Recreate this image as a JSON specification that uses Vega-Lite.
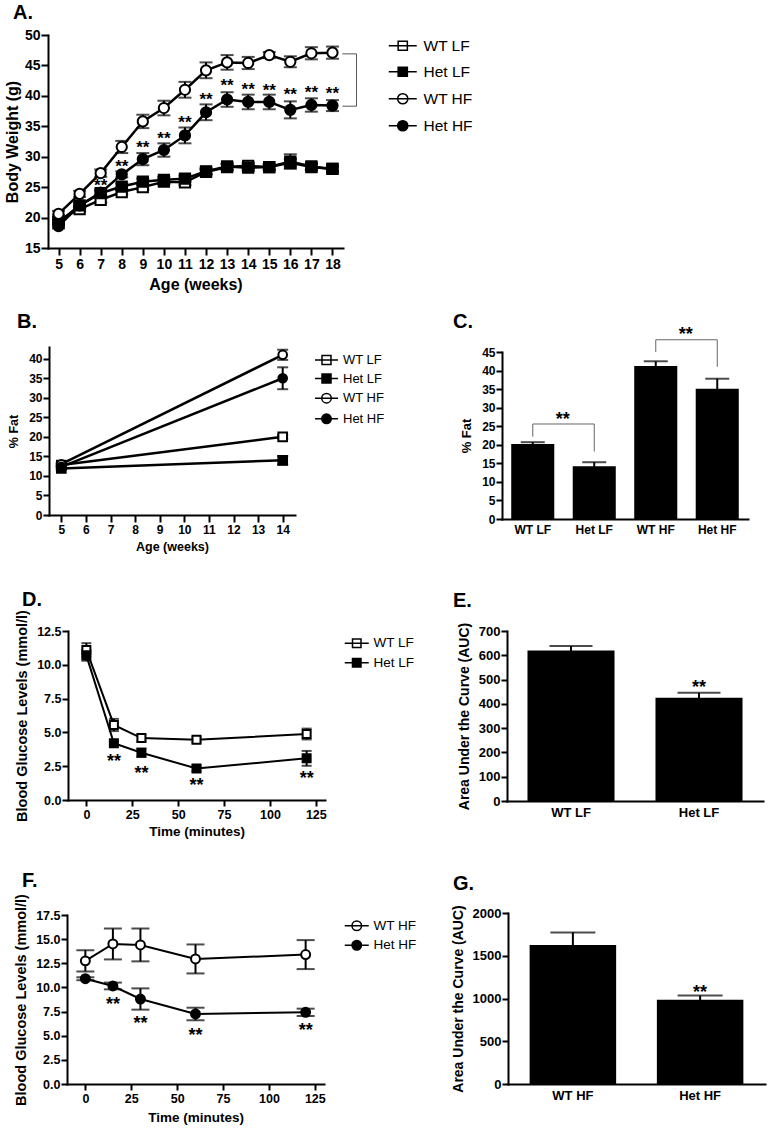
{
"$schema": "https://vega.github.io/schema/vega-lite/v6.json",
"padding": {"left": 4, "top": 3, "right": 5, "bottom": 5},
"config": {
 "font": "Liberation Sans",
 "view": {"stroke": null},
 "axis": {"domainColor": "black", "domainWidth": 2, "domainCap": "square", "tickColor": "black", "tickWidth": 2, "tickSize": 6, "labelColor": "black", "labelFontWeight": "bold", "labelPadding": 1, "titleColor": "black", "titleFontWeight": "bold", "grid": false, "labelFlush": false, "labelOverlap": false},
 "legend": {"labelColor": "black", "labelFontWeight": "normal", "padding": 0, "titlePadding": 0},
 "title": {"fontWeight": "bold", "color": "black", "fontSize": 20, "anchor": "start", "frame": "group"}
},
"datasets": {
 "A": [
  {"week":5,"g":"WT LF","v":19.6,"sem":0.4},{"week":6,"g":"WT LF","v":21.4,"sem":0.4},{"week":7,"g":"WT LF","v":22.9,"sem":0.4},{"week":8,"g":"WT LF","v":24.2,"sem":0.4},{"week":9,"g":"WT LF","v":25.0,"sem":0.4},{"week":10,"g":"WT LF","v":25.9,"sem":0.4},{"week":11,"g":"WT LF","v":25.8,"sem":0.5},{"week":12,"g":"WT LF","v":27.5,"sem":0.4},{"week":13,"g":"WT LF","v":28.3,"sem":0.5},{"week":14,"g":"WT LF","v":28.5,"sem":0.5},{"week":15,"g":"WT LF","v":28.3,"sem":0.4},{"week":16,"g":"WT LF","v":29.0,"sem":0.6},{"week":17,"g":"WT LF","v":28.3,"sem":0.5},{"week":18,"g":"WT LF","v":28.0,"sem":0.4},
  {"week":5,"g":"Het LF","v":19.2,"sem":0.4},{"week":6,"g":"Het LF","v":22.0,"sem":0.4},{"week":7,"g":"Het LF","v":24.0,"sem":0.4},{"week":8,"g":"Het LF","v":25.1,"sem":0.5},{"week":9,"g":"Het LF","v":25.9,"sem":0.5},{"week":10,"g":"Het LF","v":26.2,"sem":0.5},{"week":11,"g":"Het LF","v":26.4,"sem":0.5},{"week":12,"g":"Het LF","v":27.6,"sem":0.5},{"week":13,"g":"Het LF","v":28.4,"sem":0.5},{"week":14,"g":"Het LF","v":28.2,"sem":0.5},{"week":15,"g":"Het LF","v":28.3,"sem":0.5},{"week":16,"g":"Het LF","v":29.2,"sem":1.2},{"week":17,"g":"Het LF","v":28.4,"sem":0.5},{"week":18,"g":"Het LF","v":28.0,"sem":0.5},
  {"week":5,"g":"WT HF","v":20.6,"sem":0.5},{"week":6,"g":"WT HF","v":23.9,"sem":0.5},{"week":7,"g":"WT HF","v":27.3,"sem":0.6},{"week":8,"g":"WT HF","v":31.6,"sem":1.0},{"week":9,"g":"WT HF","v":35.8,"sem":1.1},{"week":10,"g":"WT HF","v":38.0,"sem":1.2},{"week":11,"g":"WT HF","v":41.0,"sem":1.3},{"week":12,"g":"WT HF","v":44.2,"sem":1.3},{"week":13,"g":"WT HF","v":45.5,"sem":1.2},{"week":14,"g":"WT HF","v":45.4,"sem":1.0},{"week":15,"g":"WT HF","v":46.7,"sem":0.5},{"week":16,"g":"WT HF","v":45.6,"sem":0.9},{"week":17,"g":"WT HF","v":47.0,"sem":1.0},{"week":18,"g":"WT HF","v":47.1,"sem":1.0},
  {"week":5,"g":"Het HF","v":18.6,"sem":0.4},{"week":6,"g":"Het HF","v":22.0,"sem":0.5},{"week":7,"g":"Het HF","v":24.1,"sem":0.5},{"week":8,"g":"Het HF","v":27.1,"sem":0.5},{"week":9,"g":"Het HF","v":29.6,"sem":1.0},{"week":10,"g":"Het HF","v":31.1,"sem":1.1},{"week":11,"g":"Het HF","v":33.5,"sem":1.3},{"week":12,"g":"Het HF","v":37.3,"sem":1.3},{"week":13,"g":"Het HF","v":39.4,"sem":1.2},{"week":14,"g":"Het HF","v":39.0,"sem":1.2},{"week":15,"g":"Het HF","v":39.0,"sem":1.2},{"week":16,"g":"Het HF","v":37.7,"sem":1.4},{"week":17,"g":"Het HF","v":38.5,"sem":1.1},{"week":18,"g":"Het HF","v":38.4,"sem":0.9}
 ],
 "Asig": [
  {"week":7,"v":25.8,"label":"**"},{"week":8,"v":28.9,"label":"**"},{"week":9,"v":32.1,"label":"**"},{"week":10,"v":33.5,"label":"**"},{"week":11,"v":36.2,"label":"**"},{"week":12,"v":40.0,"label":"**"},{"week":13,"v":42.2,"label":"**"},{"week":14,"v":41.6,"label":"**"},{"week":15,"v":41.4,"label":"**"},{"week":16,"v":40.8,"label":"**"},{"week":17,"v":41.2,"label":"**"},{"week":18,"v":40.9,"label":"**"}
 ],
 "Abr": [
  {"week":18.47,"week2":19.14,"v":46.9,"v2":46.9},{"week":19.14,"week2":19.14,"v":46.9,"v2":38.3},{"week":18.47,"week2":19.14,"v":38.3,"v2":38.3}
 ],
 "B": [
  {"week":5,"g":"WT LF","v":12.8,"sem":0.3},{"week":14,"g":"WT LF","v":20.0,"sem":0.5},
  {"week":5,"g":"Het LF","v":11.9,"sem":0.3},{"week":14,"g":"Het LF","v":14.0,"sem":1.1},
  {"week":5,"g":"WT HF","v":13.0,"sem":0.3},{"week":14,"g":"WT HF","v":41.0,"sem":1.3},
  {"week":5,"g":"Het HF","v":12.3,"sem":0.3},{"week":14,"g":"Het HF","v":35.0,"sem":2.8}
 ],
 "C": [
  {"g":"WT LF","v":20.2,"sem":0.5},{"g":"Het LF","v":14.2,"sem":1.1},{"g":"WT HF","v":41.2,"sem":1.3},{"g":"Het HF","v":35.1,"sem":2.7}
 ],
 "Cbr": [
  {"g":"WT LF","g2":"Het LF","v":25.6,"v2":25.6},{"g":"WT LF","g2":"WT LF","v":22.2,"v2":25.6},{"g":"Het LF","g2":"Het LF","v":18.2,"v2":25.6},
  {"g":"WT HF","g2":"Het HF","v":48.3,"v2":48.3},{"g":"WT HF","g2":"WT HF","v":45.0,"v2":48.3},{"g":"Het HF","g2":"Het HF","v":41.0,"v2":48.3}
 ],
 "Csig": [
  {"g":"WT LF","v":27.8,"label":"**"},{"g":"WT HF","v":50.7,"label":"**"}
 ],
 "D": [
  {"t":0,"g":"WT LF","v":11.1,"sem":0.5},{"t":15,"g":"WT LF","v":5.55,"sem":0.45},{"t":30,"g":"WT LF","v":4.58,"sem":0.25},{"t":60,"g":"WT LF","v":4.45,"sem":0.18},{"t":120,"g":"WT LF","v":4.88,"sem":0.4},
  {"t":0,"g":"Het LF","v":10.7,"sem":0.4},{"t":15,"g":"Het LF","v":4.2,"sem":0.15},{"t":30,"g":"Het LF","v":3.5,"sem":0.3},{"t":60,"g":"Het LF","v":2.33,"sem":0.2},{"t":120,"g":"Het LF","v":3.08,"sem":0.55}
 ],
 "Dsig": [
  {"t":15,"v":3.1,"label":"**"},{"t":30,"v":2.24,"label":"**"},{"t":60,"v":1.33,"label":"**"},{"t":120,"v":1.82,"label":"**"}
 ],
 "E": [
  {"g":"WT LF","v":620,"sem":18},{"g":"Het LF","v":425,"sem":21}
 ],
 "Esig": [{"g":"Het LF","v":480,"label":"**"}],
 "F": [
  {"t":0,"g":"WT HF","v":12.75,"sem":1.1},{"t":15,"g":"WT HF","v":14.5,"sem":1.6},{"t":30,"g":"WT HF","v":14.4,"sem":1.7},{"t":60,"g":"WT HF","v":12.95,"sem":1.5},{"t":120,"g":"WT HF","v":13.4,"sem":1.5},
  {"t":0,"g":"Het HF","v":10.9,"sem":0.15},{"t":15,"g":"Het HF","v":10.15,"sem":0.35},{"t":30,"g":"Het HF","v":8.8,"sem":1.1},{"t":60,"g":"Het HF","v":7.25,"sem":0.65},{"t":120,"g":"Het HF","v":7.42,"sem":0.38}
 ],
 "Fsig": [
  {"t":15,"v":8.6,"label":"**"},{"t":30,"v":6.6,"label":"**"},{"t":60,"v":5.4,"label":"**"},{"t":120,"v":5.9,"label":"**"}
 ],
 "G": [
  {"g":"WT HF","v":1625,"sem":148},{"g":"Het HF","v":984,"sem":50}
 ],
 "Gsig": [{"g":"Het HF","v":1109,"label":"**"}]
},
"columns": 3,
"align": "each",
"bounds": "flush",
"spacing": 0,
"resolve": {"scale": {"x": "independent", "y": "independent", "shape": "independent", "fill": "independent"}, "legend": {"shape": "independent", "fill": "independent"}, "axis": {"x": "independent", "y": "independent"}},
"concat": [
 {
  "width": 295, "height": 213,
  "title": {"text": "A.", "dx": -35, "offset": 5},
  "encoding": {
   "x": {"field": "week", "type": "quantitative", "scale": {"domain": [4.5, 18.5], "nice": false, "zero": false}, "axis": {"values": [5,6,7,8,9,10,11,12,13,14,15,16,17,18], "title": "Age (weeks)", "labelFontSize": 14, "titleFontSize": 16, "tickSize": 7, "labelPadding": 2, "titlePadding": 5}},
   "y": {"field": "v", "type": "quantitative", "scale": {"domain": [15, 50], "nice": false, "zero": false}, "axis": {"values": [15,20,25,30,35,40,45,50], "title": "Body Weight (g)", "labelFontSize": 14, "titleFontSize": 16, "tickSize": 7, "titlePadding": 4}}
  },
  "resolve": {"scale": {"shape": "independent", "fill": "independent"}, "legend": {"shape": "independent", "fill": "independent"}},
  "layer": [
   {"data": {"name": "Abr"}, "mark": {"type": "rule", "color": "#555555", "strokeWidth": 1}, "encoding": {"x2": {"field": "week2"}, "y2": {"field": "v2"}}},
   {"data": {"name": "A"}, "mark": {"type": "line", "color": "black", "strokeWidth": 2.5}, "encoding": {"detail": {"field": "g"}}},
   {"data": {"name": "A"}, "mark": {"type": "errorbar", "ticks": {"size": 13, "thickness": 2}, "thickness": 2, "color": "black"}, "encoding": {"yError": {"field": "sem"}}},
   {"data": {"name": "A"}, "mark": {"type": "point", "filled": true, "size": 105, "stroke": "black", "strokeWidth": 2, "opacity": 1},
    "encoding": {
     "fill": {"field": "g", "type": "nominal", "scale": {"domain": ["WT LF","Het LF","WT HF","Het HF"], "range": ["white","black","white","black"]}, "legend": null},
     "shape": {"field": "g", "type": "nominal", "scale": {"domain": ["WT LF","Het LF","WT HF","Het HF"], "range": ["square","square","circle","circle"]}, "legend": null}
    }},
   {"data": {"values": []}, "mark": {"type": "point", "filled": true, "stroke": "black", "strokeWidth": 2, "opacity": 1},
    "encoding": {
     "fill": {"field": "g", "type": "nominal", "scale": {"domain": ["WT LF","Het LF","WT HF","Het HF"], "range": ["white","black","white","black"]},
      "legend": {"title": null, "orient": "none", "legendX": 347, "legendY": 3, "labelFontSize": 15.5, "symbolSize": 144, "labelOffset": 13, "rowPadding": 9,
       "encode": {"symbols": {"update": {"stroke": {"value": "black"}, "strokeWidth": {"value": 2}, "opacity": {"value": 1}}}}}},
     "shape": {"field": "g", "type": "nominal", "scale": {"domain": ["WT LF","Het LF","WT HF","Het HF"], "range": ["M-2.333,0H2.333M-0.767,-0.767H0.767V0.767H-0.767Z","M-2.333,0H2.333M-0.767,-0.767H0.767V0.767H-0.767Z","M-2.333,0H2.333M0.85,0A0.85 0.85 0 1 1 -0.85,0A0.85 0.85 0 1 1 0.85,0Z","M-2.333,0H2.333M0.85,0A0.85 0.85 0 1 1 -0.85,0A0.85 0.85 0 1 1 0.85,0Z"]},
      "legend": {"title": null, "orient": "none", "legendX": 347, "legendY": 3, "labelFontSize": 15.5, "symbolSize": 144, "labelOffset": 13, "rowPadding": 9,
       "encode": {"symbols": {"update": {"stroke": {"value": "black"}, "strokeWidth": {"value": 2}, "opacity": {"value": 1}}}}}}
    }},
   {"data": {"name": "Asig"}, "mark": {"type": "text", "fontSize": 17, "fontWeight": "bold", "baseline": "middle", "dy": 4, "color": "black"}, "encoding": {"text": {"field": "label"}}}
  ]
 },
 {"width": 159, "height": 213, "data": {"values": []}, "mark": "point", "encoding": {}},
 {"width": 1, "height": 213, "data": {"values": []}, "mark": "point", "encoding": {}},

 {"width": 1, "height": 99, "data": {"values": []}, "mark": "point", "encoding": {}},
 {"width": 1, "height": 99, "data": {"values": []}, "mark": "point", "encoding": {}},
 {"width": 1, "height": 99, "data": {"values": []}, "mark": "point", "encoding": {}},

 {
  "width": 247, "height": 168,
  "title": {"text": "B.", "dx": -31, "offset": 14},
  "encoding": {
   "x": {"field": "week", "type": "quantitative", "scale": {"domain": [4.5, 14.5], "nice": false, "zero": false, "range": [1, 247]}, "axis": {"values": [5,6,7,8,9,10,11,12,13,14], "title": "Age (weeks)", "labelFontSize": 12, "titleFontSize": 12.5, "tickSize": 7, "labelPadding": 2, "titlePadding": 5}},
   "y": {"field": "v", "type": "quantitative", "scale": {"domain": [0, 43], "nice": false, "zero": false}, "axis": {"values": [0,5,10,15,20,25,30,35,40], "title": "% Fat", "labelFontSize": 12, "titleFontSize": 12.5, "tickSize": 6, "titlePadding": 8, "offset": -1}}
  },
  "resolve": {"scale": {"shape": "independent", "fill": "independent"}, "legend": {"shape": "independent", "fill": "independent"}},
  "layer": [
   {"data": {"name": "B"}, "mark": {"type": "line", "color": "black", "strokeWidth": 2.5}, "encoding": {"detail": {"field": "g"}}},
   {"data": {"name": "B"}, "mark": {"type": "errorbar", "ticks": {"size": 11, "thickness": 2}, "thickness": 2, "color": "black"}, "encoding": {"yError": {"field": "sem"}}},
   {"data": {"name": "B"}, "mark": {"type": "point", "filled": true, "size": 75, "stroke": "black", "strokeWidth": 2, "opacity": 1},
    "encoding": {
     "fill": {"field": "g", "type": "nominal", "scale": {"domain": ["WT LF","Het LF","WT HF","Het HF"], "range": ["white","black","white","black"]}, "legend": null},
     "shape": {"field": "g", "type": "nominal", "scale": {"domain": ["WT LF","Het LF","WT HF","Het HF"], "range": ["square","square","circle","circle"]}, "legend": null}
    }},
   {"data": {"values": []}, "mark": {"type": "point", "filled": true, "stroke": "black", "strokeWidth": 2, "opacity": 1},
    "encoding": {
     "fill": {"field": "g", "type": "nominal", "scale": {"domain": ["WT LF","Het LF","WT HF","Het HF"], "range": ["white","black","white","black"]},
      "legend": {"title": null, "orient": "none", "legendX": 272, "legendY": 6.5, "labelFontSize": 13, "symbolSize": 100, "labelOffset": 10, "rowPadding": 3.6,
       "encode": {"symbols": {"update": {"stroke": {"value": "black"}, "strokeWidth": {"value": 2}, "opacity": {"value": 1}}}}}},
     "shape": {"field": "g", "type": "nominal", "scale": {"domain": ["WT LF","Het LF","WT HF","Het HF"], "range": ["M-2.3,0H2.3M-0.9,-0.9H0.9V0.9H-0.9Z","M-2.3,0H2.3M-0.9,-0.9H0.9V0.9H-0.9Z","M-2.3,0H2.3M0.95,0A0.95 0.95 0 1 1 -0.95,0A0.95 0.95 0 1 1 0.95,0Z","M-2.3,0H2.3M0.95,0A0.95 0.95 0 1 1 -0.95,0A0.95 0.95 0 1 1 0.95,0Z"]},
      "legend": {"title": null, "orient": "none", "legendX": 272, "legendY": 6.5, "labelFontSize": 13, "symbolSize": 100, "labelOffset": 10, "rowPadding": 3.6,
       "encode": {"symbols": {"update": {"stroke": {"value": "black"}, "strokeWidth": {"value": 2}, "opacity": {"value": 1}}}}}}
    }}
  ]
 },
 {"width": 159, "height": 1, "data": {"values": []}, "mark": "point", "encoding": {}},
 {
  "width": 246, "height": 172,
  "title": {"text": "C.", "dx": -49, "offset": -6},
  "encoding": {
   "x": {"field": "g", "type": "nominal", "sort": null, "scale": {"type": "band", "domain": ["WT LF","Het LF","WT HF","Het HF"], "paddingInner": 0.3, "paddingOuter": 0.15}, "axis": {"title": null, "labelAngle": 0, "ticks": false, "labelFontSize": 12, "labelPadding": 5}},
   "y": {"field": "v", "type": "quantitative", "scale": {"domain": [0, 45], "nice": false, "range": [172, 5]}, "axis": {"values": [0,5,10,15,20,25,30,35,40,45], "title": "% Fat", "labelFontSize": 12, "titleFontSize": 13, "tickSize": 6, "titlePadding": 8}}
  },
  "layer": [
   {"data": {"name": "C"}, "mark": {"type": "errorbar", "ticks": {"size": 24, "thickness": 2}, "thickness": 2, "color": "black"}, "encoding": {"yError": {"field": "sem"}}},
   {"data": {"name": "C"}, "mark": {"type": "bar", "color": "black"}},
   {"data": {"name": "Cbr"}, "mark": {"type": "rule", "color": "#666666", "strokeWidth": 1}, "encoding": {"x": {"field": "g", "type": "nominal", "bandPosition": 0.5}, "x2": {"field": "g2", "bandPosition": 0.5}, "y2": {"field": "v2"}}},
   {"data": {"name": "Csig"}, "mark": {"type": "text", "fontSize": 18, "fontWeight": "bold", "baseline": "middle", "dy": 4, "color": "black", "dx": 30}, "encoding": {"text": {"field": "label"}}}
  ]
 },

 {"width": 1, "height": 112, "data": {"values": []}, "mark": "point", "encoding": {}},
 {"width": 1, "height": 112, "data": {"values": []}, "mark": "point", "encoding": {}},
 {"width": 1, "height": 112, "data": {"values": []}, "mark": "point", "encoding": {}},

 {
  "width": 277, "height": 169,
  "title": {"text": "D.", "dx": -26, "offset": 0},
  "encoding": {
   "x": {"field": "t", "type": "quantitative", "scale": {"domain": [-10, 130], "nice": false, "zero": false, "range": [20, 277]}, "axis": {"values": [0,25,50,75,100,125], "title": "Time (minutes)", "labelFontSize": 12.5, "titleFontSize": 13.5, "tickSize": 6, "labelPadding": 2, "titlePadding": 4}},
   "y": {"field": "v", "type": "quantitative", "scale": {"domain": [0, 12.5], "nice": false, "zero": false}, "axis": {"values": [0,2.5,5,7.5,10,12.5], "format": ".1f", "title": "Blood Glucose Levels (mmol/l)", "labelFontSize": 12.5, "titleFontSize": 14.5, "tickSize": 6, "titlePadding": 7, "offset": -20}}
  },
  "resolve": {"scale": {"shape": "independent", "fill": "independent"}, "legend": {"shape": "independent", "fill": "independent"}},
  "layer": [
   {"data": {"name": "D"}, "mark": {"type": "line", "color": "black", "strokeWidth": 2}, "encoding": {"detail": {"field": "g"}}},
   {"data": {"name": "D"}, "mark": {"type": "errorbar", "ticks": {"size": 10, "thickness": 2}, "thickness": 2, "color": "black"}, "encoding": {"yError": {"field": "sem"}}},
   {"data": {"name": "D"}, "mark": {"type": "point", "filled": true, "size": 64, "stroke": "black", "strokeWidth": 2, "opacity": 1},
    "encoding": {
     "fill": {"field": "g", "type": "nominal", "scale": {"domain": ["WT LF","Het LF"], "range": ["white","black"]}, "legend": null},
     "shape": {"field": "g", "type": "nominal", "scale": {"domain": ["WT LF","Het LF"], "range": ["square","square"]}, "legend": null}
    }},
   {"data": {"values": []}, "mark": {"type": "point", "filled": true, "stroke": "black", "strokeWidth": 2, "opacity": 1},
    "encoding": {
     "fill": {"field": "g", "type": "nominal", "scale": {"domain": ["WT LF","Het LF"], "range": ["white","black"]},
      "legend": {"title": null, "orient": "none", "legendX": 302, "legendY": 5.5, "labelFontSize": 13.5, "symbolSize": 100, "labelOffset": 10, "rowPadding": 4.5,
       "encode": {"symbols": {"update": {"stroke": {"value": "black"}, "strokeWidth": {"value": 2}, "opacity": {"value": 1}}}}}},
     "shape": {"field": "g", "type": "nominal", "scale": {"domain": ["WT LF","Het LF"], "range": ["M-2.4,0H2.4M-0.85,-0.85H0.85V0.85H-0.85Z","M-2.4,0H2.4M-0.85,-0.85H0.85V0.85H-0.85Z"]},
      "legend": {"title": null, "orient": "none", "legendX": 302, "legendY": 5.5, "labelFontSize": 13.5, "symbolSize": 100, "labelOffset": 10, "rowPadding": 4.5,
       "encode": {"symbols": {"update": {"stroke": {"value": "black"}, "strokeWidth": {"value": 2}, "opacity": {"value": 1}}}}}}
    }},
   {"data": {"name": "Dsig"}, "mark": {"type": "text", "fontSize": 18, "fontWeight": "bold", "baseline": "middle", "dy": 4, "color": "black"}, "encoding": {"text": {"field": "label"}}}
  ]
 },
 {"width": 159, "height": 1, "data": {"values": []}, "mark": "point", "encoding": {}},
 {
  "width": 261, "height": 170,
  "title": {"text": "E.", "dx": -49, "offset": 11},
  "encoding": {
   "x": {"field": "g", "type": "nominal", "sort": null, "scale": {"type": "band", "domain": ["WT LF","Het LF"], "paddingInner": 0.32, "paddingOuter": 0.16, "range": [5, 261]}, "axis": {"title": null, "labelAngle": 0, "ticks": false, "labelFontSize": 13, "labelPadding": 5}},
   "y": {"field": "v", "type": "quantitative", "scale": {"domain": [0, 700], "nice": false}, "axis": {"values": [0,100,200,300,400,500,600,700], "title": "Area Under the Curve (AUC)", "labelFontSize": 13, "titleFontSize": 14, "tickSize": 6, "titlePadding": 7, "offset": -5}}
  },
  "layer": [
   {"data": {"name": "E"}, "mark": {"type": "errorbar", "ticks": {"size": 43, "thickness": 2}, "thickness": 2, "color": "black"}, "encoding": {"yError": {"field": "sem"}}},
   {"data": {"name": "E"}, "mark": {"type": "bar", "color": "black"}},
   {"data": {"name": "Esig"}, "mark": {"type": "text", "fontSize": 18, "fontWeight": "bold", "baseline": "middle", "dy": 4, "color": "black"}, "encoding": {"text": {"field": "label"}}}
  ]
 },

 {"width": 1, "height": 112, "data": {"values": []}, "mark": "point", "encoding": {}},
 {"width": 1, "height": 112, "data": {"values": []}, "mark": "point", "encoding": {}},
 {"width": 1, "height": 112, "data": {"values": []}, "mark": "point", "encoding": {}},

 {
  "width": 276, "height": 171,
  "title": {"text": "F.", "dx": -26, "offset": 3},
  "encoding": {
   "x": {"field": "t", "type": "quantitative", "scale": {"domain": [-10, 130], "nice": false, "zero": false, "range": [19, 276]}, "axis": {"values": [0,25,50,75,100,125], "title": "Time (minutes)", "labelFontSize": 12.5, "titleFontSize": 13.5, "tickSize": 6, "labelPadding": 2, "titlePadding": 6}},
   "y": {"field": "v", "type": "quantitative", "scale": {"domain": [0, 17.5], "nice": false, "zero": false, "range": [171, 2]}, "axis": {"values": [0,2.5,5,7.5,10,12.5,15,17.5], "format": ".1f", "title": "Blood Glucose Levels (mmol/l)", "labelFontSize": 12.5, "titleFontSize": 14.5, "tickSize": 6, "titlePadding": 7, "offset": -19}}
  },
  "resolve": {"scale": {"shape": "independent", "fill": "independent"}, "legend": {"shape": "independent", "fill": "independent"}},
  "layer": [
   {"data": {"name": "F"}, "mark": {"type": "line", "color": "black", "strokeWidth": 2}, "encoding": {"detail": {"field": "g"}}},
   {"data": {"name": "F"}, "mark": {"type": "errorbar", "ticks": {"size": 18, "thickness": 2}, "thickness": 2, "color": "black"}, "encoding": {"yError": {"field": "sem"}}},
   {"data": {"name": "F"}, "mark": {"type": "point", "filled": true, "size": 80, "stroke": "black", "strokeWidth": 2, "opacity": 1},
    "encoding": {
     "fill": {"field": "g", "type": "nominal", "scale": {"domain": ["WT HF","Het HF"], "range": ["white","black"]}, "legend": null},
     "shape": {"field": "g", "type": "nominal", "scale": {"domain": ["WT HF","Het HF"], "range": ["circle","circle"]}, "legend": null}
    }},
   {"data": {"values": []}, "mark": {"type": "point", "filled": true, "stroke": "black", "strokeWidth": 2, "opacity": 1},
    "encoding": {
     "fill": {"field": "g", "type": "nominal", "scale": {"domain": ["WT HF","Het HF"], "range": ["white","black"]},
      "legend": {"title": null, "orient": "none", "legendX": 302, "legendY": 6, "labelFontSize": 13.5, "symbolSize": 100, "labelOffset": 10, "rowPadding": 3.5,
       "encode": {"symbols": {"update": {"stroke": {"value": "black"}, "strokeWidth": {"value": 2}, "opacity": {"value": 1}}}}}},
     "shape": {"field": "g", "type": "nominal", "scale": {"domain": ["WT HF","Het HF"], "range": ["M-2.4,0H2.4M0.95,0A0.95 0.95 0 1 1 -0.95,0A0.95 0.95 0 1 1 0.95,0Z","M-2.4,0H2.4M0.95,0A0.95 0.95 0 1 1 -0.95,0A0.95 0.95 0 1 1 0.95,0Z"]},
      "legend": {"title": null, "orient": "none", "legendX": 302, "legendY": 6, "labelFontSize": 13.5, "symbolSize": 100, "labelOffset": 10, "rowPadding": 3.5,
       "encode": {"symbols": {"update": {"stroke": {"value": "black"}, "strokeWidth": {"value": 2}, "opacity": {"value": 1}}}}}}
    }},
   {"data": {"name": "Fsig"}, "mark": {"type": "text", "fontSize": 18, "fontWeight": "bold", "baseline": "middle", "dy": 4, "color": "black"}, "encoding": {"text": {"field": "label"}}}
  ]
 },
 {"width": 159, "height": 1, "data": {"values": []}, "mark": "point", "encoding": {}},
 {
  "width": 263, "height": 171,
  "title": {"text": "G.", "dx": -49, "offset": 11},
  "encoding": {
   "x": {"field": "g", "type": "nominal", "sort": null, "scale": {"type": "band", "domain": ["WT HF","Het HF"], "paddingInner": 0.32, "paddingOuter": 0.17, "range": [6, 263]}, "axis": {"title": null, "labelAngle": 0, "ticks": false, "labelFontSize": 13, "labelPadding": 5}},
   "y": {"field": "v", "type": "quantitative", "scale": {"domain": [0, 2000], "nice": false}, "axis": {"values": [0,500,1000,1500,2000], "format": "d", "title": "Area Under the Curve (AUC)", "labelFontSize": 13, "titleFontSize": 14, "tickSize": 6, "titlePadding": 7, "offset": -6}}
  },
  "layer": [
   {"data": {"name": "G"}, "mark": {"type": "errorbar", "ticks": {"size": 45, "thickness": 2}, "thickness": 2, "color": "black"}, "encoding": {"yError": {"field": "sem"}}},
   {"data": {"name": "G"}, "mark": {"type": "bar", "color": "black"}},
   {"data": {"name": "Gsig"}, "mark": {"type": "text", "fontSize": 18, "fontWeight": "bold", "baseline": "middle", "dy": 4, "color": "black"}, "encoding": {"text": {"field": "label"}}}
  ]
 }
]
}
